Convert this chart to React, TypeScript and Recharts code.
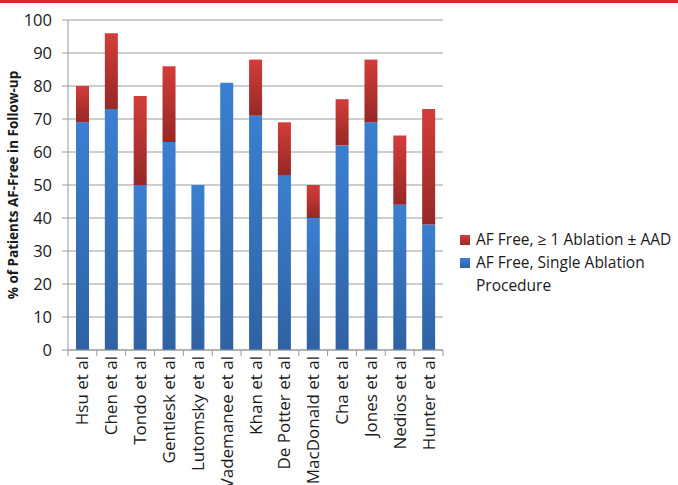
import React from 'react';
import { BarChart, Bar, XAxis, YAxis, CartesianGrid, Label } from 'recharts';

const studies = [
  'Hsu et al', 'Chen et al', 'Tondo et al', 'Gentlesk et al', 'Lutomsky et al', 'Vademanee et al',
  'Khan et al', 'De Potter et al', 'MacDonald et al', 'Cha et al', 'Jones et al', 'Nedios et al', 'Hunter et al',
];
const singleAblation = [69, 73, 50, 63, 50, 81, 71, 53, 40, 62, 69, 44, 38];
const repeatAblation = [11, 23, 27, 23, 0, 0, 17, 16, 10, 14, 19, 21, 35];
const yTicks = [0, 10, 20, 30, 40, 50, 60, 70, 80, 90, 100];

const data = studies.map((name, i) => ({
  name,
  single: singleAblation[i],
  repeat: repeatAblation[i],
}));

const FONT = '"Open Sans", "Noto Sans", sans-serif';

const CategoryTick = (props: any) => {
  const { x, y, payload, width, visibleTicksCount, index } = props;
  const band = width / visibleTicksCount;
  return (
    <g>
      <line x1={x - band / 2} x2={x - band / 2} y1={y - 8} y2={y - 2} stroke="#999" />
      {index === visibleTicksCount - 1 && (
        <line x1={x + band / 2} x2={x + band / 2} y1={y - 8} y2={y - 2} stroke="#999" />
      )}
      <text
        x={x + 6}
        y={y - 2}
        transform={`rotate(-90, ${x + 6}, ${y - 2})`}
        textAnchor="end"
        fontSize={17}
        fill="#1a1a1a"
        fontFamily={FONT}
      >
        {payload.value}
      </text>
    </g>
  );
};

const LegendBox = () => (
  <div
    style={{
      position: 'absolute', left: 460, top: 228, width: 220,
      fontFamily: FONT, fontSize: 15.5, color: '#1a1a1a', lineHeight: '23px',
    }}
  >
    <div style={{ display: 'flex', alignItems: 'flex-start', marginBottom: 0 }}>
      <span style={{ width: 10, height: 10, marginTop: 7, marginRight: 6, flexShrink: 0, background: 'linear-gradient(#d33c38, #9a2a28)' }} />
      <span style={{ whiteSpace: 'nowrap' }}>AF Free, ≥ 1 Ablation ± AAD</span>
    </div>
    <div style={{ display: 'flex', alignItems: 'flex-start' }}>
      <span style={{ width: 10, height: 10, marginTop: 7, marginRight: 6, flexShrink: 0, background: 'linear-gradient(#3b7fd1, #2f63a6)' }} />
      <span style={{ width: 190 }}>AF Free, Single Ablation Procedure</span>
    </div>
  </div>
);

export default function App() {
  return (
    <div style={{ position: 'absolute', left: 0, top: 0, width: 678, height: 485, background: '#fff', overflow: 'hidden' }}>
      <div style={{ position: 'absolute', left: 0, top: 0, width: 678, height: 3, background: '#d9262c' }} />
      <BarChart
        width={678}
        height={485}
        data={data}
        margin={{ top: 20, right: 235, bottom: 0, left: 0 }}
        barSize={13}
      >
        <defs>
          <linearGradient id="blueGrad" x1="0" y1="0" x2="0" y2="1">
            <stop offset="0%" stopColor="#3b7fd1" />
            <stop offset="100%" stopColor="#2f62a3" />
          </linearGradient>
          <linearGradient id="redGrad" x1="0" y1="0" x2="0" y2="1">
            <stop offset="0%" stopColor="#d33d39" />
            <stop offset="100%" stopColor="#962826" />
          </linearGradient>
        </defs>
        <CartesianGrid vertical={false} stroke="#bdbdbd" strokeWidth={1.5} />
        <XAxis
          dataKey="name"
          interval={0}
          height={135}
          tick={<CategoryTick />}
          tickLine={false}
          axisLine={{ stroke: '#999' }}
        />
        <YAxis
          domain={[0, 100]}
          ticks={yTicks}
          width={68}
          tickLine={{ stroke: '#999' }}
          tickSize={6}
          tickMargin={10}
          axisLine={{ stroke: '#999' }}
          tick={{ fontSize: 16.5, fill: '#1a1a1a', fontFamily: FONT }}
        >
          <Label
            value="% of Patients AF-Free in Follow-up"
            angle={-90}
            position="insideLeft"
            offset={13}
            style={{ textAnchor: 'middle', fontSize: 13.5, fontWeight: 'bold', fill: '#1a1a1a', fontFamily: FONT }}
          />
        </YAxis>
        <Bar dataKey="single" stackId="a" fill="url(#blueGrad)" isAnimationActive={false} />
        <Bar dataKey="repeat" stackId="a" fill="url(#redGrad)" isAnimationActive={false} />
      </BarChart>
      <LegendBox />
    </div>
  );
}
